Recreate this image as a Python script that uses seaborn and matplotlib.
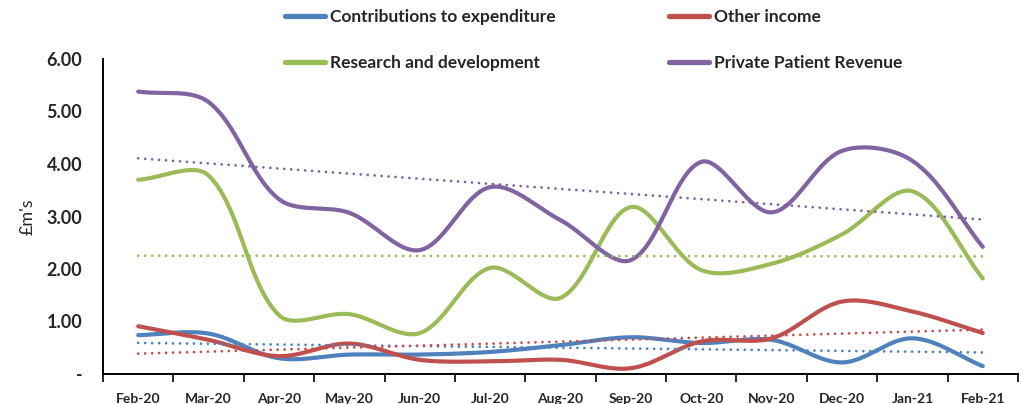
import numpy as np
import pandas as pd
import matplotlib
matplotlib.use("Agg")
import matplotlib.pyplot as plt
from matplotlib.lines import Line2D
import seaborn as sns

months = ["Feb-20", "Mar-20", "Apr-20", "May-20", "Jun-20", "Jul-20", "Aug-20",
          "Sep-20", "Oct-20", "Nov-20", "Dec-20", "Jan-21", "Feb-21"]
contributions = [0.74, 0.77, 0.30, 0.37, 0.37, 0.42, 0.55, 0.70, 0.59, 0.65, 0.22, 0.68, 0.15]
other_income = [0.91, 0.65, 0.34, 0.58, 0.27, 0.24, 0.27, 0.11, 0.62, 0.68, 1.38, 1.19, 0.78]
research = [3.70, 3.78, 1.12, 1.14, 0.78, 2.02, 1.45, 3.18, 1.98, 2.10, 2.66, 3.48, 1.82]
private_patient = [5.38, 5.18, 3.33, 3.07, 2.36, 3.56, 2.93, 2.17, 4.04, 3.08, 4.25, 4.06, 2.42]
series_names = ["Contributions to expenditure", "Other income",
                "Research and development", "Private Patient Revenue"]
series_values = [contributions, other_income, research, private_patient]
colors = ["#4F81BD", "#C0504D", "#9BBB59", "#8064A2"]
yticks = [0, 1, 2, 3, 4, 5, 6]
ytick_labels = ["-", "1.00", "2.00", "3.00", "4.00", "5.00", "6.00"]

# pixel size of one x-category and one y-unit (for Excel-like smoothing)
PX_X, PX_Y = 70.4, 52.5


def smooth(y, n=40):
    """Excel-style smoothed line: cubic Bezier segments whose control
    points are weighted by the on-screen segment lengths."""
    y = np.asarray(y, float)
    x = np.arange(len(y), dtype=float)
    P = np.column_stack([x * PX_X, y * PX_Y])
    m = len(P)
    ext = np.vstack([P[0], P, P[-1]])
    cin, cout = [], []
    for i in range(m):
        p0, p1, p2 = ext[i], ext[i + 1], ext[i + 2]
        d01 = np.hypot(*(p1 - p0))
        d12 = np.hypot(*(p2 - p1))
        tot = d01 + d12
        tan = p2 - p0
        if tot == 0:
            fa = fb = 0.0
        else:
            fa = (1 / 3) * d01 / tot
            fb = (1 / 3) * d12 / tot
        cin.append(p1 - fa * tan)
        cout.append(p1 + fb * tan)
    t = np.linspace(0, 1, n, endpoint=False)[:, None]
    pts = []
    for i in range(m - 1):
        a, b, c, d = P[i], cout[i], cin[i + 1], P[i + 1]
        seg = ((1 - t) ** 3) * a + 3 * ((1 - t) ** 2) * t * b + 3 * (1 - t) * t ** 2 * c + t ** 3 * d
        pts.append(seg)
    pts.append(P[-1][None, :])
    pts = np.vstack(pts)
    return pts[:, 0] / PX_X, pts[:, 1] / PX_Y


sns.set_theme(style="white")
plt.rcParams["font.family"] = ["Lato", "DejaVu Sans"]

fig = plt.figure(figsize=(10.22, 4.04), dpi=100)
ax = fig.add_axes([103 / 1022, 1 - 374 / 404, (1018 - 103) / 1022, (374 - 59) / 404])

frames = []
for name, vals in zip(series_names, series_values):
    xs, ys = smooth(vals)
    frames.append(pd.DataFrame({"x": xs, "y": ys, "series": name}))
smooth_df = pd.concat(frames, ignore_index=True)

sns.lineplot(data=smooth_df, x="x", y="y", hue="series", hue_order=series_names,
             palette=colors, linewidth=3.0, sort=False, estimator=None, ax=ax,
             legend=False)

idx = np.arange(len(months))
for vals, c in zip(series_values, colors):
    sns.regplot(x=idx, y=np.asarray(vals), scatter=False, ci=None, ax=ax,
                line_kws=dict(color=c, linestyle=(0, (0.01, 2.5)), linewidth=2.0,
                              dash_capstyle="round"))

ax.set_xlim(-0.5, len(months) - 0.5)
ax.set_ylim(0, 6)
ax.set_yticks(yticks)
ax.set_yticklabels(ytick_labels, fontsize=13, fontweight="bold")
ax.set_xticks(idx)
ax.set_xticklabels(months, fontsize=10, fontweight="bold")
ax.set_xticks(np.arange(-0.5, len(months)), minor=True)
ax.tick_params(axis="x", which="major", length=0, pad=14)
ax.tick_params(axis="x", which="minor", length=6, width=1.2, color="black",
               direction="out", bottom=True)
ax.tick_params(axis="y", length=0, pad=15)
ax.set_xlabel("")
ax.set_ylabel("£m's", fontsize=13, labelpad=8)
for s in ["top", "right"]:
    ax.spines[s].set_visible(False)
for s in ["left", "bottom"]:
    ax.spines[s].set_color("black")
    ax.spines[s].set_linewidth(1.4)

handles = [Line2D([], [], color=c, linewidth=3.8, solid_capstyle="round") for c in colors]
order = [0, 2, 1, 3]
fig.legend([handles[i] for i in order], [series_names[i] for i in order],
           loc="upper left", bbox_to_anchor=(285 / 1022, 1 - 9 / 404),
           ncol=2, frameon=False, prop=dict(size=12.5, weight="bold"),
           borderpad=0, borderaxespad=0,
           handlelength=2.3, handletextpad=0.3, columnspacing=6.5, labelspacing=1.75)

fig.savefig("out.png", dpi=100)
